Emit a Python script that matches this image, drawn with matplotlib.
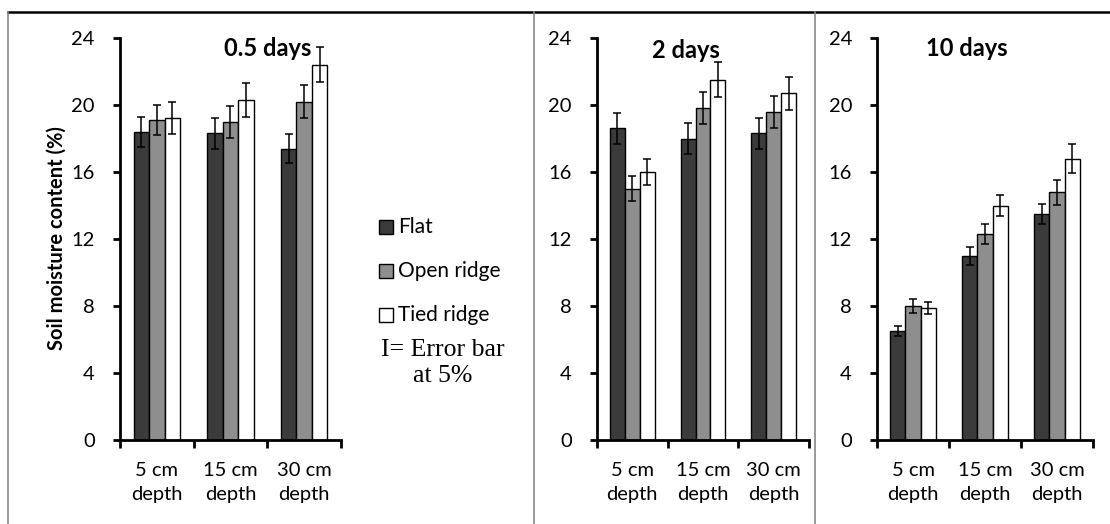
import matplotlib
matplotlib.use("Agg")
from matplotlib import pyplot as plt
from matplotlib.lines import Line2D
from matplotlib.patches import Rectangle

categories = ["5 cm\ndepth", "15 cm\ndepth", "30 cm\ndepth"]
series = ["Flat", "Open ridge", "Tied ridge"]
titles = ["0.5 days", "2 days", "10 days"]

# values per panel, order: Flat, Open ridge, Tied ridge
flat = [[18.4, 18.3, 17.4], [18.6, 18.0, 18.3], [6.5, 11.0, 13.5]]
open_ridge = [[19.1, 19.0, 20.2], [15.0, 19.8, 19.6], [8.0, 12.3, 14.8]]
tied_ridge = [[19.2, 20.3, 22.4], [16.0, 21.5, 20.7], [7.9, 14.0, 16.8]]

flat_err = [[0.9, 0.9, 0.85], [0.95, 0.9, 0.9], [0.3, 0.55, 0.6]]
open_err = [[0.9, 0.95, 1.0], [0.75, 0.95, 0.95], [0.4, 0.6, 0.75]]
tied_err = [[0.95, 1.0, 1.05], [0.8, 1.05, 1.0], [0.35, 0.65, 0.85]]

colors = ["#3b3b3b", "#8e8e8e", "#ffffff"]
W, H = 1110, 524
font = "Lato"

fig = plt.figure(figsize=(W / 100, H / 100), dpi=100)

# frame lines of the original figure
fig.add_artist(Line2D([8 / W, 1], [1 - 11.5 / H] * 2, color="black", lw=1.8))
for xp in [8, 534, 815]:
    fig.add_artist(Line2D([xp / W] * 2, [0, 1 - 11.5 / H], color="#888888", lw=1.2))

# axes boxes in pixels: left, right
boxes = [(120, 341), (597, 809), (877, 1093)]
y_top, y_bot = 38, 440
title_pos = [(268, 48), (686, 50), (967, 48)]

bw = 0.21
for i, (l, r) in enumerate(boxes):
    ax = fig.add_axes([l / W, 1 - y_bot / H, (r - l) / W, (y_bot - y_top) / H])
    data = [flat[i], open_ridge[i], tied_ridge[i]]
    errs = [flat_err[i], open_err[i], tied_err[i]]
    for k in range(3):
        xs = [c + 0.5 + (k - 1) * bw for c in range(3)]
        ax.bar(xs, data[k], width=bw, color=colors[k], edgecolor="black",
               linewidth=1.0, zorder=2)
        ax.errorbar(xs, data[k], yerr=errs[k], fmt="none", ecolor="black",
                    elinewidth=1.1, capsize=3.2, capthick=1.1, zorder=3)
    ax.set_xlim(0, 3)
    ax.set_ylim(0, 24)
    ax.set_yticks(range(0, 25, 4))
    ax.set_xticks([0, 1, 2, 3])
    ax.set_xticklabels([])
    ax.set_xticks([0.5, 1.5, 2.5], minor=True)
    ax.set_xticklabels(categories, minor=True, fontsize=14.5, family=font,
                       linespacing=1.45)
    ax.tick_params(axis="x", which="minor", length=0, pad=16)
    ax.tick_params(axis="x", which="major", length=6, width=2, direction="out")
    ax.tick_params(axis="y", length=5, width=2, direction="out", pad=13,
                   labelsize=14.5)
    for lab in ax.get_yticklabels():
        lab.set_family(font)
    for s in ["top", "right"]:
        ax.spines[s].set_visible(False)
    ax.spines["left"].set_linewidth(2)
    ax.spines["bottom"].set_linewidth(2)
    ax.patch.set_alpha(0)
    fig.text(title_pos[i][0] / W, 1 - title_pos[i][1] / H, titles[i],
             fontsize=17, fontweight="bold", family=font,
             ha="center", va="center")

fig.text(57 / W, 1 - 238 / H, "Soil moisture content (%)", rotation=90,
         fontsize=14.5, fontweight="bold", family=font, ha="center", va="center")

# legend
leg_y = [227, 271, 315]
for k in range(3):
    fig.add_artist(Rectangle((379 / W, 1 - (leg_y[k] + 7) / H), 14 / W, 14 / H,
                             facecolor=colors[k], edgecolor="black", lw=1.0))
    fig.text(398 / W, 1 - leg_y[k] / H, series[k], fontsize=15, family=font,
             ha="left", va="center")
fig.text(443 / W, 1 - 363 / H, "I= Error bar\nat 5%", fontsize=18.5,
         family="Liberation Serif", ha="center", va="center", linespacing=1.25)

fig.savefig("out.png", dpi=100)
